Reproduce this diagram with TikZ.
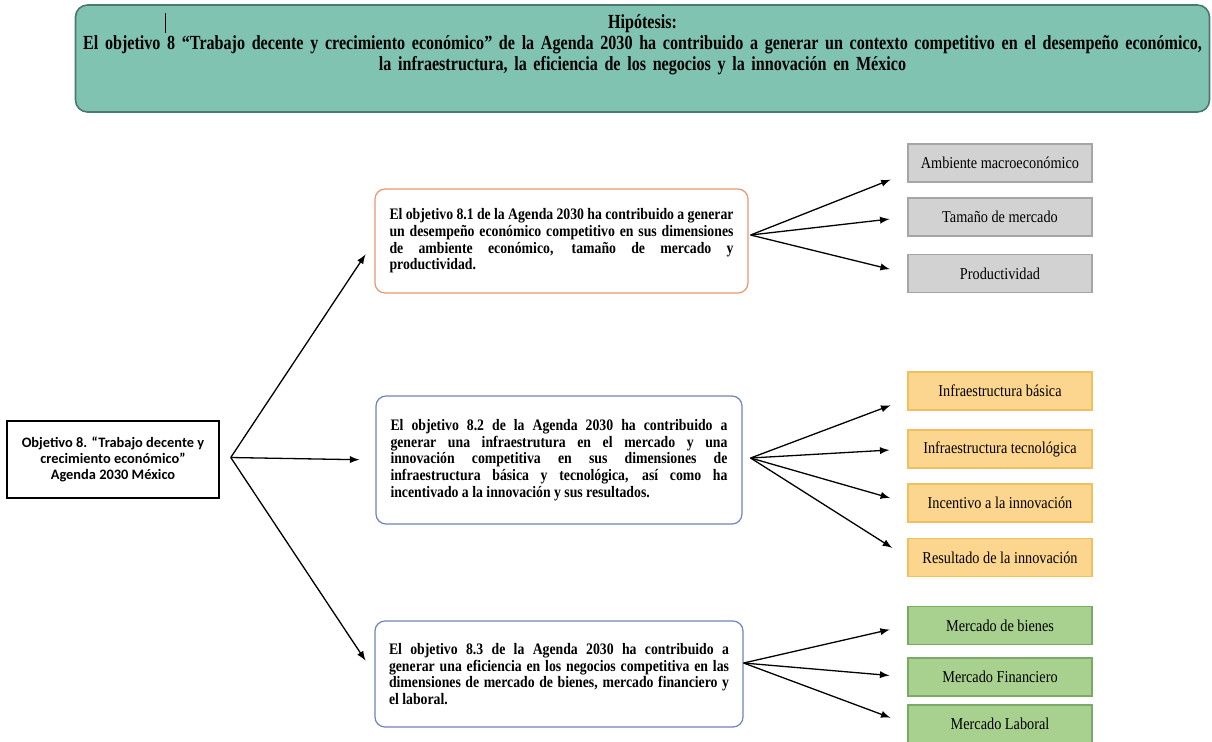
\documentclass[tikz,border=0pt]{standalone}
\usepackage{fontspec}
\setmainfont{Liberation Serif}
\newfontfamily\boxfont[FakeStretch=0.86]{Liberation Serif}
\newfontfamily\hypfont[FakeStretch=0.805]{Liberation Serif}
\newfontfamily\calibri{Carlito}
\usetikzlibrary{positioning}
\usetikzlibrary{calc}
\definecolor{hypfill}{RGB}{128,195,177}
\definecolor{hypdraw}{RGB}{72,122,112}
\definecolor{orangeline}{RGB}{232,152,112}
\definecolor{blueline}{RGB}{112,132,186}
\definecolor{grayfill}{RGB}{210,210,210}
\definecolor{graydraw}{RGB}{165,165,165}
\definecolor{orangefill}{RGB}{252,214,142}
\definecolor{orangedraw}{RGB}{240,192,96}
\definecolor{greenfill}{RGB}{168,208,142}
\definecolor{greendraw}{RGB}{122,170,102}

\tikzset{
  hypbox/.style={draw=hypdraw, fill=hypfill, rounded corners=6pt, line width=0.8pt,
    minimum width=567pt, minimum height=53.5pt, align=center, text width=566pt,
    font=\hypfont\bfseries\fontsize{10}{10.3}\selectfont},
  objbox/.style={draw=black, line width=0.75pt, minimum width=106pt, minimum height=38.5pt,
    align=center, font=\calibri\bfseries\fontsize{7.2}{8}\selectfont},
  goalbox/.style={fill=white, rounded corners=5pt, line width=0.6pt, align=justify,
    font=\boxfont\bfseries\fontsize{8}{8.35}\selectfont},
  dimbox/.style={minimum width=92pt, minimum height=19pt, line width=0.6pt, align=center,
    font=\boxfont\fontsize{8.3}{9}\selectfont},
  arr/.style={-latex, line width=0.65pt, shorten >=8pt},
  fan/.style={-latex, line width=0.65pt, shorten >=9pt}
}

\begin{document}
\begin{tikzpicture}[x=0.5pt,y=-0.5pt, every node/.style={inner sep=0pt}]
\useasboundingbox (0,0) rectangle (1212,741);

% Hypothesis
  \node[hypbox] (hyp) at (642.5,58.5) {Hipótesis:\\
    El objetivo 8 “Trabajo decente y crecimiento económico” de la Agenda 2030 ha contribuido a generar un contexto competitivo en el desempeño económico,\\
    la infraestructura, la eficiencia de los negocios y la innovación en México\\[5.7pt]\mbox{}};
  \draw[line width=0.4pt] (165,13) -- (165,33);

% Objective 8
  \node[objbox] (obj) at (113,459.5) {Objetivo 8. “Trabajo decente y\\ crecimiento económico”\\ Agenda 2030 México};
  \coordinate (o) at ([xshift=5.5pt,yshift=1pt]obj.east);

% Goals 8.1 - 8.3
  \node[goalbox, draw=orangeline, minimum width=186.5pt, minimum height=52pt, text width=172pt] (g81) at (561.5,241)
    {El objetivo 8.1 de la Agenda 2030 ha contribuido a generar\linebreak un desempeño económico competitivo en sus dimensiones\linebreak de ambiente económico, tamaño de mercado y\linebreak productividad.};
  \node[goalbox, draw=blueline, minimum width=183pt, minimum height=64pt, text width=168.5pt] (g82) at (559,460)
    {El objetivo 8.2 de la Agenda 2030 ha contribuido a\linebreak generar una infraestrutura en el mercado y una\linebreak innovación competitiva en sus dimensiones de\linebreak infraestructura básica y tecnológica, así como ha\linebreak incentivado a la innovación y sus resultados.};
  \node[goalbox, draw=blueline, minimum width=184pt, minimum height=53pt, text width=170pt] (g83) at (559,674)
    {El objetivo 8.3 de la Agenda 2030 ha contribuido a\linebreak generar una eficiencia en los negocios competitiva en las\linebreak dimensiones de mercado de bienes, mercado financiero y\linebreak el laboral.};

  \draw[arr] (o) -- (g81.west);
  \draw[arr] (o) -- (g82.west);
  \draw[arr] (o) -- (g83.west);

% Dimensions of 8.1
  \node[dimbox, fill=grayfill, draw=graydraw] (amb) at (1000,163) {Ambiente macroeconómico};
  \node[dimbox, fill=grayfill, draw=graydraw] (tam) at (1000,217) {Tamaño de mercado};
  \node[dimbox, fill=grayfill, draw=graydraw] (prod) at (1000,273.5) {Productividad};
  \coordinate (f1) at ([xshift=1pt,yshift=3pt]g81.east);
  \draw[fan] (f1) -- ([yshift=-5pt]amb.west);
  \draw[fan] (f1) -- (tam.west);
  \draw[fan] (f1) -- (prod.west);

% Dimensions of 8.2
  \node[dimbox, fill=orangefill, draw=orangedraw] (basica) at (1000,391) {Infraestructura básica};
  \node[dimbox, fill=orangefill, draw=orangedraw] (tecno) at (1000,449) {Infraestructura tecnológica};
  \node[dimbox, fill=orangefill, draw=orangedraw] (incen) at (1000,503) {Incentivo a la innovación};
  \node[dimbox, fill=orangefill, draw=orangedraw] (resul) at (1000,557.5) {Resultado de la innovación};
  \coordinate (f2) at ([xshift=4pt,yshift=1pt]g82.east);
  \draw[fan] (f2) -- ([yshift=-4pt]basica.west);
  \draw[fan] (f2) -- (tecno.west);
  \draw[fan] (f2) -- (incen.west);
  \draw[fan] (f2) -- (resul.west);

% Dimensions of 8.3
  \node[dimbox, fill=greenfill, draw=greendraw] (bienes) at (1000,625.5) {Mercado de bienes};
  \node[dimbox, fill=greenfill, draw=greendraw] (finan) at (1000,677) {Mercado Financiero};
  \node[dimbox, fill=greenfill, draw=greendraw] (labor) at (1000,724) {Mercado Laboral};
  \coordinate (f3) at ([yshift=5.5pt]g83.east);
  \draw[fan] (f3) -- (bienes.west);
  \draw[fan] (f3) -- (finan.west);
  \draw[fan] (f3) -- (labor.west);

\end{tikzpicture}
\end{document}
